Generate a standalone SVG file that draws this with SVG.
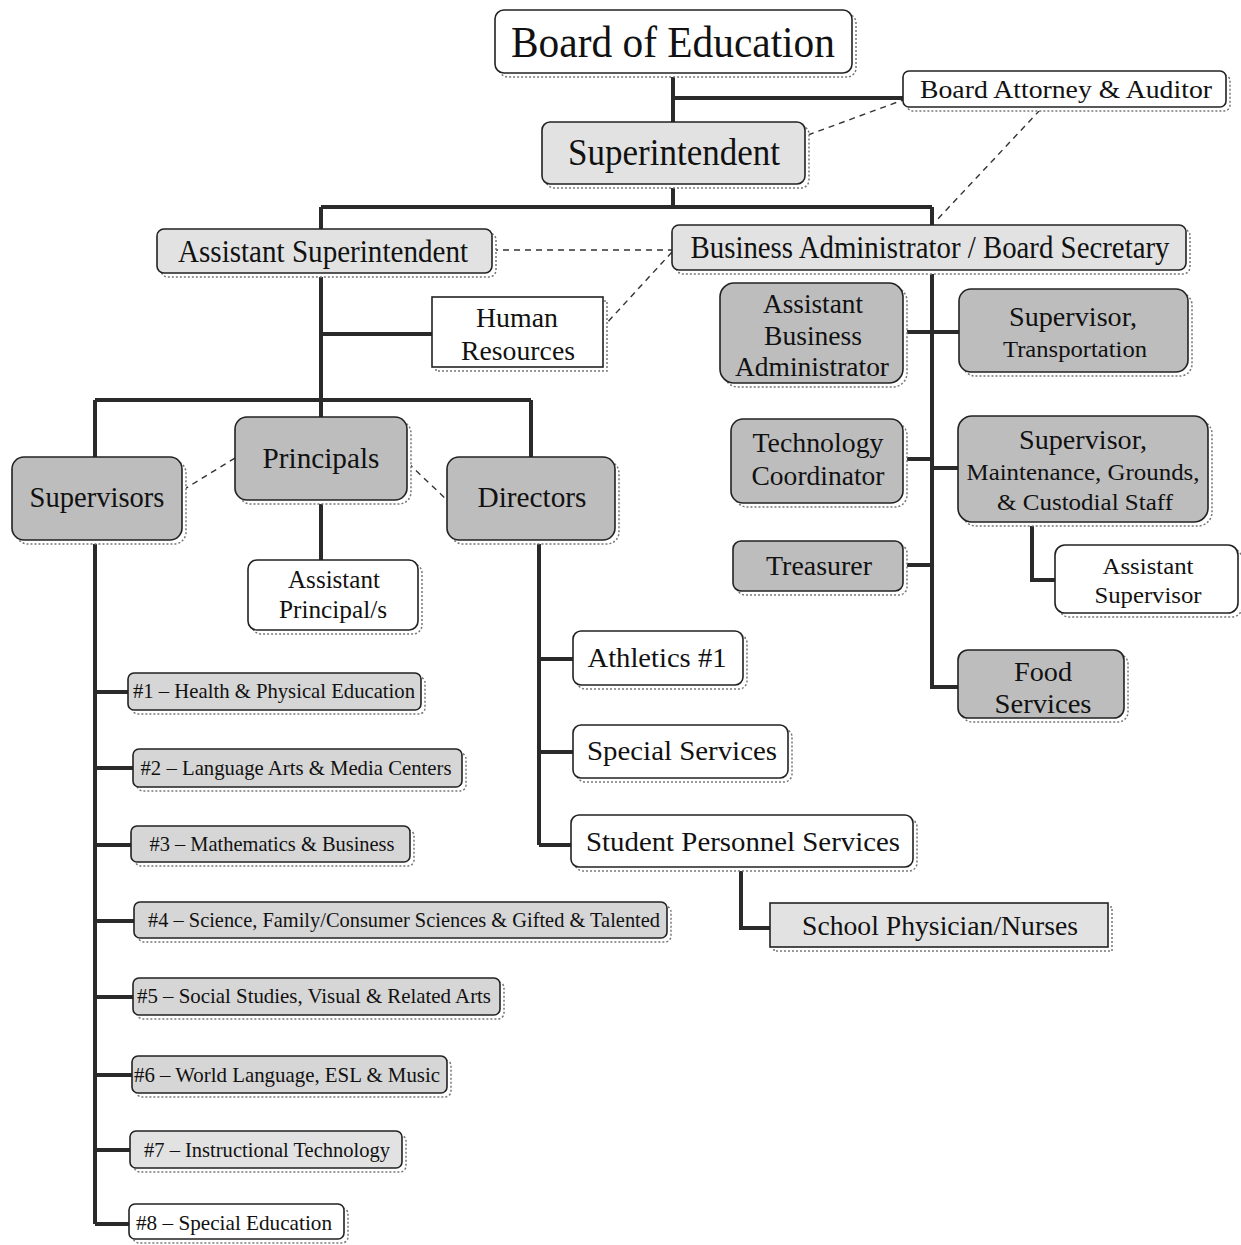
<svg xmlns="http://www.w3.org/2000/svg" width="1241" height="1245" viewBox="0 0 1241 1245">
<style>
text{font-family:"Liberation Serif","Times New Roman",serif;fill:#111;text-anchor:middle}
.sh{fill:#fff;stroke:#777;stroke-width:1.5;stroke-dasharray:2 2}
.b{stroke:#222;stroke-width:1.6}
.w{fill:#fff}
.l{fill:#e2e2e2}
.m{fill:#d6d6d6}
.d{fill:#bdbdbd}
.c{fill:none;stroke:#2a2a2a;stroke-width:4}
.dash{fill:none;stroke:#333;stroke-width:1.4;stroke-dasharray:6 5}
</style>
<rect width="1241" height="1245" fill="#fff"/>
<g id="connectors">
<path class="c" d="M673 73V122M673 98H903M673 184V207M321 207H932M321 207V229M932 207V225M321 273V400M321 334H432M95 400H531M95 400V457M321 400V417M531 400V457M321 500V560M95 540V1224M95 692H128M95 768H133M95 845H131M95 921H134M95 997H133M95 1075H132M95 1150H130M95 1224H129M539 540V845M539 659H573M539 752H573M539 845H571M741 867V928H770M932 270V687H958M903 332H959M903 459H932M932 468H958M903 565H932M1032 522V580H1055"/>
<path class="dash" d="M808 135L903 100M1040 110L935 222M492 250H672M672 252L605 325M183 490L235 458M408 463L447 500"/>
</g>
<g id="board">
<rect class="sh" x="499" y="14" width="357" height="63" rx="9"/>
<rect class="b w" x="495" y="10" width="357" height="63" rx="9"/>
<text x="673" y="57" font-size="44" textLength="324" lengthAdjust="spacingAndGlyphs">Board of Education</text>
</g>
<g id="attorney">
<rect class="sh" x="907" y="75" width="323" height="36" rx="6"/>
<rect class="b w" x="903" y="71" width="323" height="36" rx="6"/>
<text x="1066" y="98" font-size="26" textLength="292" lengthAdjust="spacingAndGlyphs">Board Attorney &amp; Auditor</text>
</g>
<g id="superintendent">
<rect class="sh" x="546" y="126" width="263" height="62" rx="8"/>
<rect class="b l" x="542" y="122" width="263" height="62" rx="8"/>
<text x="674" y="165" font-size="37" textLength="212" lengthAdjust="spacingAndGlyphs">Superintendent</text>
</g>
<g id="asst-superintendent">
<rect class="sh" x="161" y="233" width="335" height="44" rx="7"/>
<rect class="b l" x="157" y="229" width="335" height="44" rx="7"/>
<text x="323" y="262" font-size="31" textLength="290" lengthAdjust="spacingAndGlyphs">Assistant Superintendent</text>
</g>
<g id="business-admin">
<rect class="sh" x="676" y="229" width="514" height="45" rx="7"/>
<rect class="b l" x="672" y="225" width="514" height="45" rx="7"/>
<text x="930" y="258" font-size="31" textLength="479" lengthAdjust="spacingAndGlyphs">Business Administrator / Board Secretary</text>
</g>
<g id="human-resources">
<rect class="sh" x="436" y="301" width="171" height="70"/>
<rect class="b w" x="432" y="297" width="171" height="70"/>
<text x="517" y="327" font-size="28" textLength="82" lengthAdjust="spacingAndGlyphs">Human</text>
<text x="518" y="360" font-size="28" textLength="114" lengthAdjust="spacingAndGlyphs">Resources</text>
</g>
<g id="principals">
<rect class="sh" x="239" y="421" width="172" height="83" rx="12"/>
<rect class="b d" x="235" y="417" width="172" height="83" rx="12"/>
<text x="321" y="468" font-size="30" textLength="117" lengthAdjust="spacingAndGlyphs">Principals</text>
</g>
<g id="supervisors">
<rect class="sh" x="16" y="461" width="170" height="83" rx="12"/>
<rect class="b d" x="12" y="457" width="170" height="83" rx="12"/>
<text x="97" y="507" font-size="30" textLength="135" lengthAdjust="spacingAndGlyphs">Supervisors</text>
</g>
<g id="directors">
<rect class="sh" x="451" y="461" width="168" height="83" rx="12"/>
<rect class="b d" x="447" y="457" width="168" height="83" rx="12"/>
<text x="532" y="507" font-size="30" textLength="109" lengthAdjust="spacingAndGlyphs">Directors</text>
</g>
<g id="asst-principals">
<rect class="sh" x="252" y="564" width="170" height="70" rx="9"/>
<rect class="b w" x="248" y="560" width="170" height="70" rx="9"/>
<text x="334" y="588" font-size="25" textLength="92" lengthAdjust="spacingAndGlyphs">Assistant</text>
<text x="333" y="618" font-size="25" textLength="108" lengthAdjust="spacingAndGlyphs">Principal/s</text>
</g>
<g id="sup1">
<rect class="sh" x="132" y="677" width="293" height="37" rx="6"/>
<rect class="b m" x="128" y="673" width="293" height="37" rx="6"/>
<text x="274" y="698" font-size="22" textLength="282" lengthAdjust="spacingAndGlyphs">#1 – Health &amp; Physical Education</text>
</g>
<g id="sup2">
<rect class="sh" x="137" y="753" width="329" height="38" rx="6"/>
<rect class="b m" x="133" y="749" width="329" height="38" rx="6"/>
<text x="296" y="775" font-size="22" textLength="311" lengthAdjust="spacingAndGlyphs">#2 – Language Arts &amp; Media Centers</text>
</g>
<g id="sup3">
<rect class="sh" x="135" y="830" width="279" height="36" rx="6"/>
<rect class="b m" x="131" y="826" width="279" height="36" rx="6"/>
<text x="272" y="851" font-size="22" textLength="245" lengthAdjust="spacingAndGlyphs">#3 – Mathematics &amp; Business</text>
</g>
<g id="sup4">
<rect class="sh" x="138" y="906" width="533" height="36" rx="6"/>
<rect class="b m" x="134" y="902" width="533" height="36" rx="6"/>
<text x="404" y="927" font-size="22" textLength="512" lengthAdjust="spacingAndGlyphs">#4 – Science, Family/Consumer Sciences &amp; Gifted &amp; Talented</text>
</g>
<g id="sup5">
<rect class="sh" x="137" y="982" width="367" height="37" rx="6"/>
<rect class="b m" x="133" y="978" width="367" height="37" rx="6"/>
<text x="314" y="1003" font-size="22" textLength="354" lengthAdjust="spacingAndGlyphs">#5 – Social Studies, Visual &amp; Related Arts</text>
</g>
<g id="sup6">
<rect class="sh" x="136" y="1060" width="315" height="37" rx="6"/>
<rect class="b m" x="132" y="1056" width="315" height="37" rx="6"/>
<text x="287" y="1082" font-size="22" textLength="306" lengthAdjust="spacingAndGlyphs">#6 – World Language, ESL &amp; Music</text>
</g>
<g id="sup7">
<rect class="sh" x="134" y="1135" width="272" height="37" rx="6"/>
<rect class="b l" x="130" y="1131" width="272" height="37" rx="6"/>
<text x="267" y="1157" font-size="22" textLength="246" lengthAdjust="spacingAndGlyphs">#7 – Instructional Technology</text>
</g>
<g id="sup8">
<rect class="sh" x="133" y="1208" width="215" height="35" rx="6"/>
<rect class="b w" x="129" y="1204" width="215" height="35" rx="6"/>
<text x="234" y="1230" font-size="22" textLength="196" lengthAdjust="spacingAndGlyphs">#8 – Special Education</text>
</g>
<g id="athletics">
<rect class="sh" x="577" y="635" width="170" height="54" rx="8"/>
<rect class="b w" x="573" y="631" width="170" height="54" rx="8"/>
<text x="657" y="667" font-size="28" textLength="139" lengthAdjust="spacingAndGlyphs">Athletics #1</text>
</g>
<g id="special-services">
<rect class="sh" x="577" y="729" width="215" height="53" rx="8"/>
<rect class="b w" x="573" y="725" width="215" height="53" rx="8"/>
<text x="682" y="760" font-size="28" textLength="190" lengthAdjust="spacingAndGlyphs">Special Services</text>
</g>
<g id="student-personnel">
<rect class="sh" x="575" y="819" width="342" height="52" rx="8"/>
<rect class="b w" x="571" y="815" width="342" height="52" rx="8"/>
<text x="743" y="851" font-size="28" textLength="314" lengthAdjust="spacingAndGlyphs">Student Personnel Services</text>
</g>
<g id="physician">
<rect class="sh" x="774" y="907" width="338" height="44"/>
<rect class="b l" x="770" y="903" width="338" height="44"/>
<text x="940" y="935" font-size="28" textLength="276" lengthAdjust="spacingAndGlyphs">School Physician/Nurses</text>
</g>
<g id="asst-business-admin">
<rect class="sh" x="724" y="287" width="183" height="100" rx="14"/>
<rect class="b d" x="720" y="283" width="183" height="100" rx="14"/>
<text x="813" y="313" font-size="27" textLength="100" lengthAdjust="spacingAndGlyphs">Assistant</text>
<text x="813" y="345" font-size="27" textLength="98" lengthAdjust="spacingAndGlyphs">Business</text>
<text x="812" y="376" font-size="27" textLength="154" lengthAdjust="spacingAndGlyphs">Administrator</text>
</g>
<g id="sup-transportation">
<rect class="sh" x="963" y="293" width="229" height="83" rx="12"/>
<rect class="b d" x="959" y="289" width="229" height="83" rx="12"/>
<text x="1073" y="326" font-size="27" textLength="128" lengthAdjust="spacingAndGlyphs">Supervisor,</text>
<text x="1075" y="357" font-size="24" textLength="144" lengthAdjust="spacingAndGlyphs">Transportation</text>
</g>
<g id="tech-coordinator">
<rect class="sh" x="735" y="423" width="172" height="84" rx="12"/>
<rect class="b d" x="731" y="419" width="172" height="84" rx="12"/>
<text x="818" y="452" font-size="27" textLength="131" lengthAdjust="spacingAndGlyphs">Technology</text>
<text x="818" y="485" font-size="27" textLength="133" lengthAdjust="spacingAndGlyphs">Coordinator</text>
</g>
<g id="sup-maintenance">
<rect class="sh" x="962" y="420" width="250" height="106" rx="14"/>
<rect class="b d" x="958" y="416" width="250" height="106" rx="14"/>
<text x="1083" y="449" font-size="27" textLength="128" lengthAdjust="spacingAndGlyphs">Supervisor,</text>
<text x="1083" y="480" font-size="24" textLength="233" lengthAdjust="spacingAndGlyphs">Maintenance, Grounds,</text>
<text x="1085" y="510" font-size="24" textLength="176" lengthAdjust="spacingAndGlyphs">&amp; Custodial Staff</text>
</g>
<g id="asst-supervisor">
<rect class="sh" x="1059" y="549" width="183" height="68" rx="10"/>
<rect class="b w" x="1055" y="545" width="183" height="68" rx="10"/>
<text x="1148" y="574" font-size="24" textLength="91" lengthAdjust="spacingAndGlyphs">Assistant</text>
<text x="1148" y="603" font-size="24" textLength="107" lengthAdjust="spacingAndGlyphs">Supervisor</text>
</g>
<g id="treasurer">
<rect class="sh" x="737" y="545" width="170" height="50" rx="8"/>
<rect class="b d" x="733" y="541" width="170" height="50" rx="8"/>
<text x="819" y="575" font-size="27" textLength="106" lengthAdjust="spacingAndGlyphs">Treasurer</text>
</g>
<g id="food-services">
<rect class="sh" x="962" y="654" width="166" height="68" rx="10"/>
<rect class="b d" x="958" y="650" width="166" height="68" rx="10"/>
<text x="1043" y="681" font-size="27" textLength="58" lengthAdjust="spacingAndGlyphs">Food</text>
<text x="1043" y="713" font-size="27" textLength="97" lengthAdjust="spacingAndGlyphs">Services</text>
</g>
</svg>
